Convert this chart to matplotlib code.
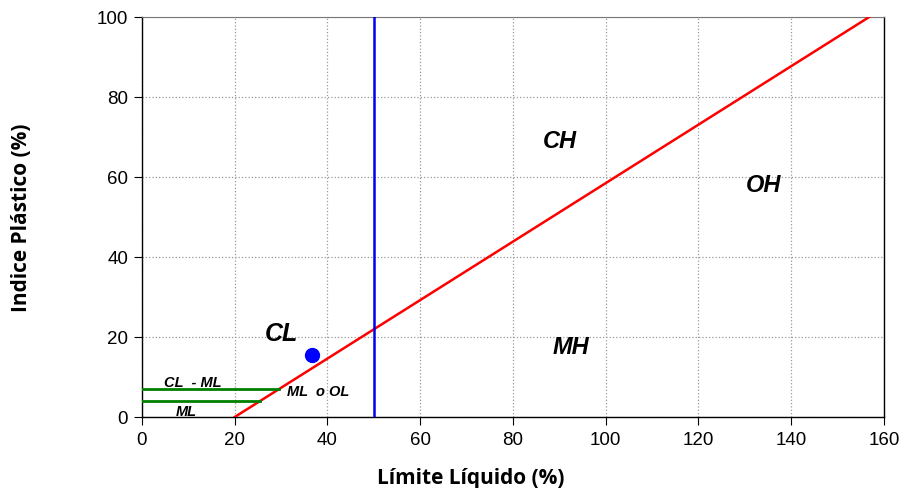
import numpy as np
import matplotlib
matplotlib.use('Agg')
import matplotlib.pyplot as plt

# casagrande plasticity chart
a_line_ll = [20, 157]
a_line_pi = [0, 0.73 * (157 - 20)]
u_ll = 50
cl_ml_pi = [7, 4]
cl_ml_end = [29.6, 25.5]
sample_ll = [36.7]
sample_pi = [15.6]

zones = ['CH', 'OH', 'MH', 'CL']
zone_x = [90, 134, 92.5, 30]
zone_y = [69, 58, 17.5, 21]
zone_size = [17, 17, 17, 18]

small = ['CL  - ML', 'ML', 'ML  o OL']
small_x = [11, 9.5, 38]
small_y = [8.7, 1.6, 6.5]

fig = plt.figure(figsize=(9.01, 4.89), dpi=100)
ax = fig.add_axes([0.1576, 0.1452, 0.8235, 0.819])

ax.plot(a_line_ll, a_line_pi, color='red', lw=1.8, zorder=3)
ax.axvline(u_ll, color='#0000ee', lw=1.8, zorder=3)
for pi, end in zip(cl_ml_pi, cl_ml_end):
    ax.plot([0, end], [pi, pi], color='#008000', lw=2, zorder=3)
ax.plot(sample_ll, sample_pi, 'o', color='#0000ff', ms=10, zorder=4)

for t, x, y, s in zip(zones, zone_x, zone_y, zone_size):
    ax.text(x, y, t, fontsize=s, fontweight='bold', fontstyle='italic',
            family='Liberation Sans', ha='center', va='center')
for t, x, y in zip(small, small_x, small_y):
    ax.text(x, y, t, fontsize=10.5, fontweight='bold', fontstyle='italic',
            family='Liberation Sans', ha='center', va='center')

ax.set_xlim(0, 160)
ax.set_ylim(0, 100)
ax.set_xticks(range(0, 161, 20))
ax.set_yticks(range(0, 101, 20))
ax.grid(True, color='#999999', ls=':', lw=0.9)
ax.set_axisbelow(True)
for side in ['left', 'bottom', 'right']:
    ax.spines[side].set_color('black')
    ax.spines[side].set_linewidth(1.0)
ax.spines['top'].set_color('#777777')
ax.tick_params(direction='out', length=6, labelsize=13.5, pad=4)
for lab in ax.get_xticklabels() + ax.get_yticklabels():
    lab.set_family('Liberation Sans')

ax.set_xlabel('Límite Líquido (%)', fontsize=15, fontweight='bold', family='Open Sans')
ax.xaxis.set_label_coords(0.443, -0.125)
ax.set_ylabel('Indice Plástico (%)', fontsize=15, fontweight='bold', family='Open Sans')
ax.yaxis.set_label_coords(-0.148, 0.5)

fig.savefig('out.png', dpi=100)
